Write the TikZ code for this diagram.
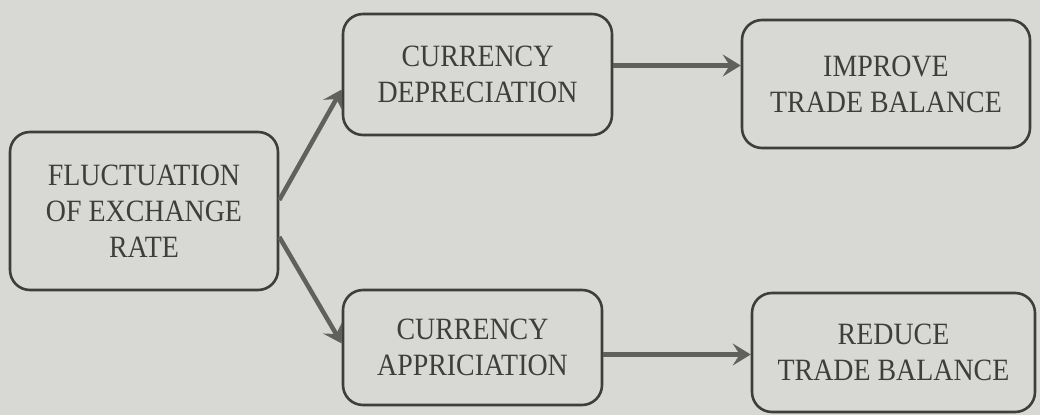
\documentclass[tikz,border=0pt]{standalone}
\usepackage{fontspec}
\setmainfont{Liberation Serif}[FakeStretch=0.9]
\usetikzlibrary{arrows.meta}
\definecolor{bg}{RGB}{216,217,212}
\definecolor{ink}{RGB}{62,62,58}
\definecolor{arr}{RGB}{96,96,92}
\begin{document}
\begin{tikzpicture}[x=1pt,y=1pt,
  box/.style={draw=ink, line width=2.6pt, rounded corners=20pt, text=ink,
    align=center, inner sep=0pt, font=\fontsize{31}{36}\selectfont},
  link/.style={draw=arr, line width=4.5pt,
    -{Stealth[length=18pt,width=22pt,inset=7pt]}}]
\fill[bg] (0,0) rectangle (1040,415);
\useasboundingbox (0,0) rectangle (1040,415);
\node[box, minimum width=268pt, minimum height=158pt] (fluc) at (144,204) {FLUCTUATION\\OF EXCHANGE\\RATE};
\node[box, minimum width=269pt, minimum height=121pt] (dep) at (477.5,340.5) {CURRENCY\\DEPRECIATION};
\node[box, minimum width=288pt, minimum height=128pt] (imp) at (886,331) {IMPROVE\\TRADE BALANCE};
\node[box, minimum width=259pt, minimum height=115pt] (app) at (472.5,67.5) {CURRENCY\\APPRICIATION};
\node[box, minimum width=283pt, minimum height=119pt] (red) at (893.5,62.5) {REDUCE\\TRADE BALANCE};
\draw[link] ([yshift=11pt]fluc.east) -- ([yshift=-15pt]dep.west);
\draw[link] ([yshift=-26pt]fluc.east) -- ([yshift=4pt]app.west);
\draw[link] ([yshift=9pt]dep.east) -- ([yshift=9pt]dep.east -| imp.west);
\draw[link] ([yshift=-7pt]app.east) -- ([yshift=-7pt]app.east -| red.west);
\end{tikzpicture}
\end{document}
